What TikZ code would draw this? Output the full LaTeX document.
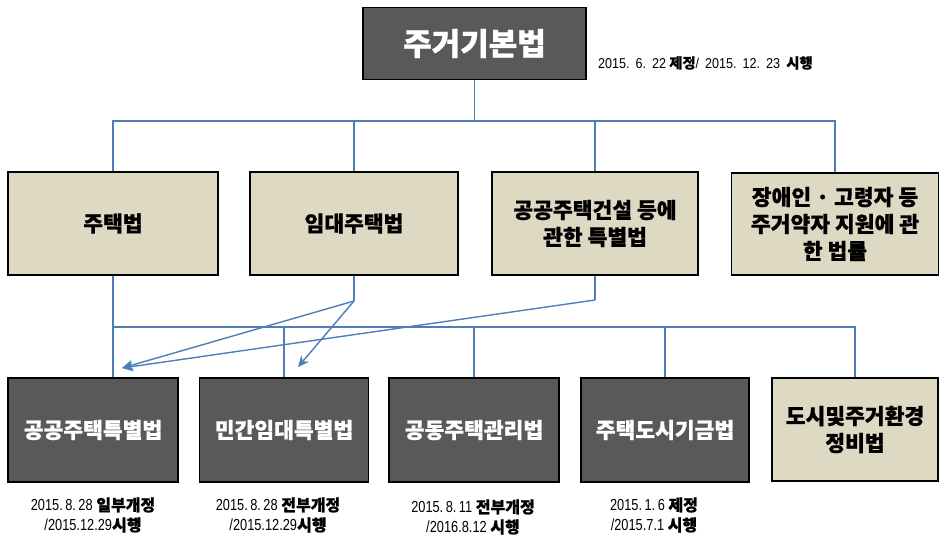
\documentclass[tikz,border=0pt]{standalone}
\usepackage{fontspec}
\setmainfont{Noto Sans CJK KR}[BoldFeatures={FakeBold=0.8}]
\newfontfamily\narrow{Liberation Sans}[FakeStretch=0.8]
\newfontfamily\narrowb{Liberation Sans}[FakeStretch=0.88]
\usetikzlibrary{arrows.meta}
\definecolor{darkbox}{HTML}{595959}
\definecolor{tanbox}{HTML}{DDD9C3}
\definecolor{linkblue}{HTML}{4F7DB8}
\tikzset{
  darknode/.style={draw=black, line width=1.6pt, fill=darkbox, text=white, inner sep=0pt, align=center, font=\bfseries\fontsize{21.5}{27}\selectfont},
  tannode/.style={draw=black, line width=1.6pt, fill=tanbox, text=black, inner sep=0pt, align=center, font=\bfseries\fontsize{21.5}{27}\selectfont},
  conn/.style={draw=linkblue, line width=1.4pt},
  arr/.style={conn, -{Stealth[length=11pt,width=10pt,inset=3.5pt]}},
  datelbl/.style={inner sep=0pt, align=center, font=\fontsize{16}{20}\selectfont},
}
\newcommand{\nd}[1]{{\narrow #1}}
\newcommand{\ndb}[1]{{\narrowb #1}}
\newcommand{\dg}{\hspace{2.5pt}}
\newcommand{\tg}{\hspace{6pt}}
\begin{document}
\begin{tikzpicture}[x=1pt,y=-1pt]
\useasboundingbox (0,0) rectangle (939,535);
% top
\node[darknode, minimum width=223pt, minimum height=72pt, font=\bfseries\fontsize{31}{34}\selectfont] (top) at (474.5,43.5) {주거기본법};
\node[datelbl, anchor=west, font=\fontsize{14.3}{16}\selectfont] (topdate) at (598,63) {\ndb{2015.\tg 6.\tg 22} \textbf{제정}\ndb{/\tg 2015.\tg 12.\tg 23}\hspace{3pt} \textbf{시행}};
% middle row
\node[tannode, minimum width=210pt, minimum height=103pt] (m1) at (113,223.5) {주택법};
\node[tannode, minimum width=208pt, minimum height=103pt] (m2) at (354,223.5) {임대주택법};
\node[tannode, minimum width=206pt, minimum height=103pt] (m3) at (595,223.5) {공공주택건설 등에\\관한 특별법};
\node[tannode, minimum width=207pt, minimum height=102pt] (m4) at (835,224) {장애인 · 고령자 등\\주거약자 지원에 관\\한 법률};
% bottom row
\node[darknode, minimum width=170pt, minimum height=104pt] (c1) at (93,430) {공공주택특별법};
\node[darknode, minimum width=169pt, minimum height=104pt] (c2) at (284,430) {민간임대특별법};
\node[darknode, minimum width=170pt, minimum height=104pt] (c3) at (474,430) {공동주택관리법};
\node[darknode, minimum width=168pt, minimum height=104pt] (c4) at (665,430) {주택도시기금법};
\node[tannode, minimum width=166pt, minimum height=103pt] (c5) at (855,429.5) {도시및주거환경\\정비법};
% date labels
\node[datelbl] (d1) at (93,515) {\nd{2015.\dg 8.\dg 28} \textbf{일부개정}\\\nd{/2015.12.29}\textbf{시행}};
\node[datelbl] (d2) at (278,515) {\nd{2015.\dg 8.\dg 28} \textbf{전부개정}\\\nd{/2015.12.29}\textbf{시행}};
\node[datelbl] (d3) at (473,517) {\nd{2015.\dg 8.\dg 11} \textbf{전부개정}\\\nd{/2016.8.12} \textbf{시행}};
\node[datelbl] (d4) at (654,515) {\nd{2015.\dg 1.\dg 6} \textbf{제정}\\\nd{/2015.7.1} \textbf{시행}};
% bus coordinates
\coordinate (busA) at (0,121);
\coordinate (busB) at (0,327);
\coordinate (k2) at (354,301);
\coordinate (k3) at (595,300);
\coordinate (t1) at (122,368);
\coordinate (t2) at (298,367);
% top tree
\draw[conn] (top.south) -- (top.south |- busA);
\draw[conn] (m1.north) -- (m1.north |- busA) -- (m4.north |- busA) -- (m4.north);
\draw[conn] (m2.north) -- (m2.north |- busA);
\draw[conn] (m3.north) -- (m3.north |- busA);
% bottom tree
\draw[conn] (m1.south) -- (m1.south |- c1.north);
\draw[conn] (m1.south |- busB) -- (c5.north |- busB) -- (c5.north);
\draw[conn] (c2.north) -- (c2.north |- busB);
\draw[conn] (c3.north) -- (c3.north |- busB);
\draw[conn] (c4.north) -- (c4.north |- busB);
% arrows
\draw[conn] (m2.south) -- (k2);
\draw[arr] (k2) -- (t1);
\draw[arr] (k2) -- (t2);
\draw[conn] (m3.south) -- (k3);
\draw[arr] (k3) -- (t1);
\end{tikzpicture}
\end{document}
